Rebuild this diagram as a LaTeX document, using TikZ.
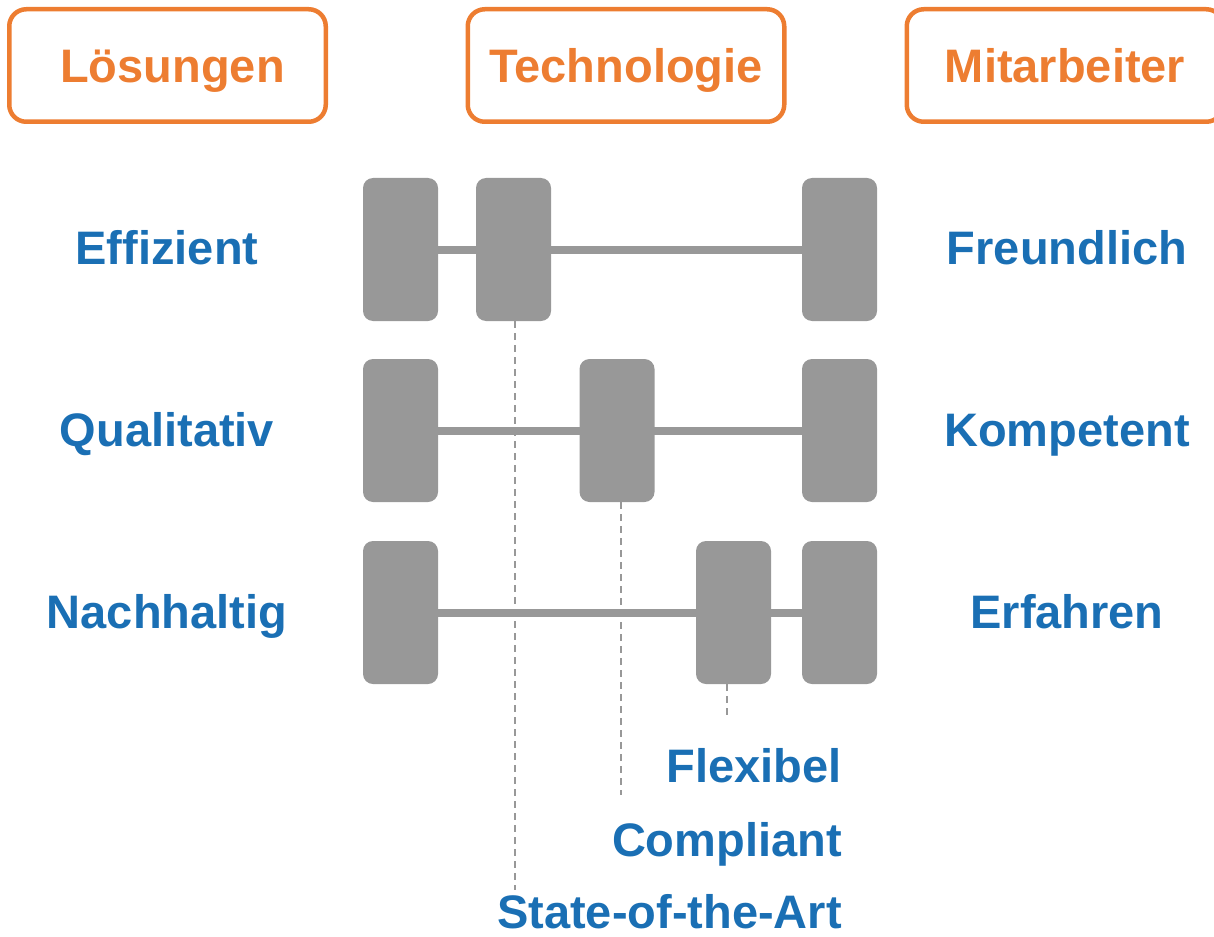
\documentclass[tikz,border=0pt]{standalone}
\usepackage{fontspec}
\setmainfont{Liberation Sans}
\definecolor{orangeC}{HTML}{ED7D31}
\definecolor{blueC}{HTML}{1A6FB4}
\definecolor{grayC}{HTML}{989898}
\begin{document}
\begin{tikzpicture}[x=1pt,y=-1pt,
  hdr/.style={draw=orangeC, line width=4.5pt, rounded corners=17pt, minimum width=316.5pt, minimum height=112.5pt, inner sep=0pt, text height=34pt, text depth=0pt, text=orangeC, font=\fontsize{47}{56}\selectfont\bfseries},
  lbl/.style={text=blueC, inner sep=0pt, font=\fontsize{47}{56}\selectfont\bfseries},
  blk/.style={fill=grayC, rounded corners=10pt, minimum width=75pt, minimum height=143pt, inner sep=0pt},
  bar/.style={draw=grayC, line width=8pt},
  dsh/.style={draw=grayC, line width=2pt, dash pattern=on 7pt off 5pt}]
\useasboundingbox (0,0) rectangle (1214,936);
\clip (0,0) rectangle (1214,936);
% headers
\node[hdr] (h1) at (167.5,65.5) {\hspace*{10pt}Lösungen};
\node[hdr] (h2) at (626,65.5) {Technologie};
\node[hdr] (h3) at (1065,65.5) {Mitarbeiter};
% row 1
\node[blk] (L1) at (400.5,249.5) {};
\node[blk] (R1) at (839.5,249.5) {};
\draw[bar] (L1.east) -- (R1.west);
\node[blk] (M1) at (513.5,249.5) {};
% row 2
\node[blk] (L2) at (400.5,430.5) {};
\node[blk] (R2) at (839.5,430.5) {};
\draw[bar] (L2.east) -- (R2.west);
\node[blk] (M2) at (617,430.5) {};
% row 3
\node[blk] (L3) at (400.5,612.5) {};
\node[blk] (R3) at (839.5,612.5) {};
\draw[bar] (L3.east) -- (R3.west);
\node[blk] (M3) at (733.5,612.5) {};
% side labels
\node[lbl, anchor=base] (e1) at (167,264) {Effizient};
\node[lbl, anchor=base] (e2) at (167,446) {Qualitativ};
\node[lbl, anchor=base] (e3) at (167,628) {Nachhaltig};
\node[lbl, anchor=base] (f1) at (1067,264) {Freundlich};
\node[lbl, anchor=base] (f2) at (1067,446) {Kompetent};
\node[lbl, anchor=base] (f3) at (1067,628) {Erfahren};
% bottom labels
\node[lbl, anchor=base east] (b3) at (842,782) {Flexibel};
\node[lbl, anchor=base east] (b2) at (842,856) {Compliant};
\node[lbl, anchor=base east] (b1) at (842,928) {State-of-the-Art};
% dashed leaders
\coordinate (d1) at (515,890);
\coordinate (d2) at (621,795);
\coordinate (d3) at (727,720);
\draw[dsh] (d1 |- M1.south) -- (d1);
\draw[dsh] (d2 |- M2.south) -- (d2);
\draw[dsh] (d3 |- M3.south) -- (d3);
\end{tikzpicture}
\end{document}
